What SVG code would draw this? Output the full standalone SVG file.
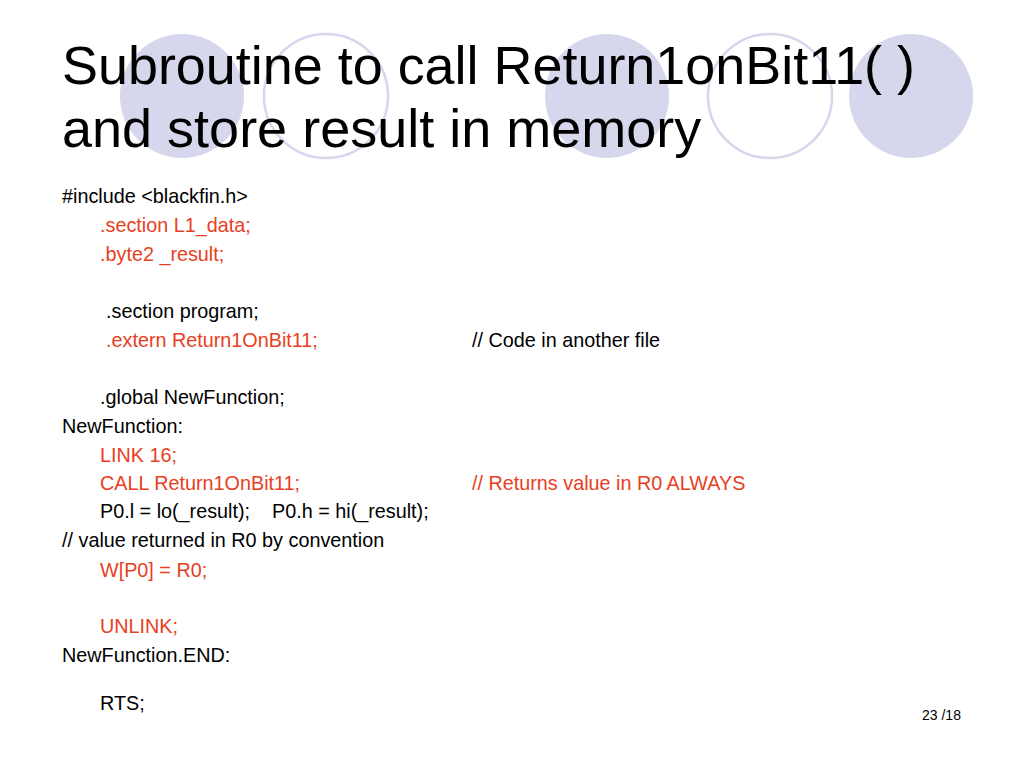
<svg xmlns="http://www.w3.org/2000/svg" width="1024" height="768" viewBox="0 0 1024 768">
<style>
.fill{fill:#D6D6EC;stroke:none}
.ring{fill:none;stroke:#D6D6EC;stroke-width:2.5}
.title{font-family:"Liberation Sans",Arial,sans-serif;font-size:54px;fill:#000}
.b{font-family:"Liberation Sans",Arial,sans-serif;font-size:19.8px;fill:#000}
.r{fill:#E8401E}
.pg{font-family:"Liberation Sans",Arial,sans-serif;font-size:14px;fill:#000}
</style>
<rect width="1024" height="768" fill="#fff"/>
<g id="decor">
<circle class="fill" cx="182" cy="96" r="62"/>
<circle class="ring" cx="326" cy="96" r="62"/>
<circle class="fill" cx="607" cy="96" r="62"/>
<circle class="ring" cx="770" cy="96" r="62"/>
<circle class="fill" cx="911" cy="96" r="62"/>
</g>
<g id="title">
<text class="title" x="62" y="84" textLength="853" lengthAdjust="spacingAndGlyphs">Subroutine to call Return1onBit11( )</text>
<text class="title" x="62" y="147">and store result in memory</text>
</g>
<g id="code">
<text class="b" x="62" y="203">#include &lt;blackfin.h&gt;</text>
<text class="b r" x="100" y="232">.section L1_data;</text>
<text class="b r" x="100" y="261">.byte2 _result;</text>
<text class="b" x="106" y="318">.section program;</text>
<text class="b r" x="106" y="347">.extern Return1OnBit11;</text>
<text class="b" x="472" y="347">// Code in another file</text>
<text class="b" x="100" y="404">.global NewFunction;</text>
<text class="b" x="62" y="433">NewFunction:</text>
<text class="b r" x="100" y="462">LINK 16;</text>
<text class="b r" x="100" y="490">CALL Return1OnBit11;</text>
<text class="b r" x="472" y="490">// Returns value in R0 ALWAYS</text>
<text class="b" x="100" y="518">P0.l = lo(_result);</text>
<text class="b" x="272" y="518">P0.h = hi(_result);</text>
<text class="b" x="62" y="547">// value returned in R0 by convention</text>
<text class="b r" x="100" y="577">W[P0] = R0;</text>
<text class="b r" x="100" y="633">UNLINK;</text>
<text class="b" x="62" y="662">NewFunction.END:</text>
<text class="b" x="100" y="710">RTS;</text>
</g>
<text class="pg" x="922" y="720">23 /18</text>
</svg>
